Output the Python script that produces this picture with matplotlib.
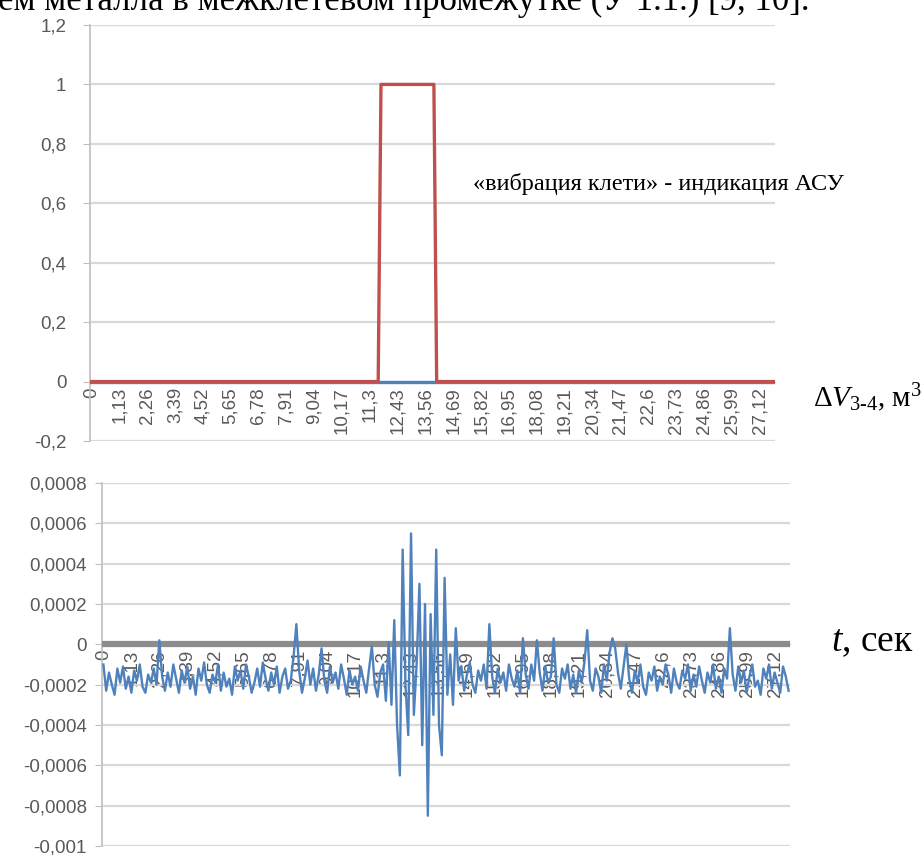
import matplotlib
matplotlib.use("Agg")
import matplotlib.pyplot as plt
import numpy as np

plt.rcParams['mathtext.fontset'] = 'custom'
plt.rcParams['mathtext.rm'] = 'Liberation Serif'
plt.rcParams['mathtext.it'] = 'Liberation Serif:italic'
plt.rcParams['mathtext.bf'] = 'Liberation Serif:bold'

# ---------------- data ----------------
tick_labels = ["0", "1,13", "2,26", "3,39", "4,52", "5,65", "6,78", "7,91", "9,04",
               "10,17", "11,3", "12,43", "13,56", "14,69", "15,82", "16,95", "18,08",
               "19,21", "20,34", "21,47", "22,6", "23,73", "24,86", "25,99", "27,12"]
label_every = 10   # one label per 10 samples (step 0.113 s)

# top chart: ASU "stand vibration" indication (0/1)
vib_start = 104
vib_end = 123
# bottom chart: dV(3-4), units of 1e-4 m^3
dv_e4 = [
    # 0 .. 99
    -1.0, -2.3, -1.4, -2.0, -2.5, -1.2, -1.9, -1.1, -2.2, -1.6,
    -2.4, -1.3, -1.8, -1.0, -2.1, -2.4, -1.5, -1.9, -1.2, -2.0,
     0.2, -1.6, -2.3, -1.4, -2.1, -1.0, -1.7, -2.4, -1.3, -1.9,
    -1.1, -2.2, -1.6, -2.5, -1.2, -1.8, -0.9, -2.0, -2.4, -1.5,
    -1.9, -1.0, -2.3, -1.4, -2.1, -1.7, -2.5, -1.1, -1.8, -1.3,
    -2.2, -1.0, -1.6, -2.4, -1.9, -1.2, -2.1, -0.9, -1.7, -2.3,
    -1.4, -2.0, -1.1, -2.4, -1.6, -1.2, -2.2, -1.8, -0.6,  1.0,
    -1.3, -2.4, -1.7, -0.8, -2.0, -1.2, -2.3, -1.5, -0.2, -1.8,
    -2.4, -1.1, -1.9, -1.4, -2.2, -1.0, -1.7, -2.5, -1.3, -2.0,
    -1.6, -2.3, -1.1, -1.8, -2.4, -1.2, -0.1, -2.0, -2.6, -1.4,
    # 100 .. 125 (vibration)
    -1.0, -2.8,  0.1, -3.0,  1.2, -4.0, -6.5,  4.7, -2.0, -4.5,
     5.5, -3.5, -1.0,  3.0, -5.0,  2.0, -8.5,  1.5, -3.5,  4.7,
    -4.0, -5.5,  3.3, -2.5, -0.5, -3.0,
    # 126 .. 245
     0.8, -1.8, -1.1, -2.3, -1.5, -0.9, -2.0, -2.4, -1.3, -1.8,
    -1.0, -2.2,  1.0, -1.6, -2.4, -1.2, -1.9, -1.4, -2.3, -1.0,
    -1.7, -2.1, -1.3, -2.4,  0.3, -1.5, -2.2, -1.0, -1.8,  0.2,
    -1.4, -2.3, -1.1, -1.9, -1.6,  0.3, -2.0, -2.4, -1.2, -1.7,
    -1.0, -2.2, -1.5, -2.4, -1.3, -1.9, -0.9,  0.7, -1.8, -2.3,
    -1.2, -1.6, -2.4, -1.0, -1.8, -0.4,  0.3, -0.2, -1.4, -2.2,
    -1.1,  0.0, -1.7, -2.4, -1.3, -1.9, -1.0, -2.1, -2.5, -1.4,
    -1.8, -1.1, -2.3, -1.6, -2.0, -1.0, -1.5, -2.4, -1.2, -1.9,
    -2.2, -1.3, -1.7, -1.0, -2.3, -1.5, -2.1, -1.1, -1.8, -2.4,
    -1.4, -1.9, -1.0, -2.2, -1.6, -2.4, -1.2, -1.7,  0.8, -1.5,
    -2.3, -1.1, -1.9, -1.3, -2.4, -1.6, -1.0, -2.1, -1.8, -2.5,
    -1.2, -1.7, -1.0, -2.2, -1.4, -1.9, -2.4, -1.1, -1.6, -2.3,
]

n = len(dv_e4)
idx = np.arange(n)
dv = np.array(dv_e4) * 1e-4
vib = np.zeros(n)
vib[vib_start:vib_end + 1] = 1.0
zero_series = np.zeros(n)

# ---------------- style ----------------
W, H = 923, 855
fig = plt.figure(figsize=(W / 100, H / 100), dpi=100)
fig.patch.set_facecolor('white')

grid_c = '#D9D9D9'
axis_c = '#BFBFBF'
lab_c = '#595959'
tick_font = dict(family='Liberation Sans', size=13.5, color=lab_c)

def fx(px):
    return px / W

def fy(py):
    return 1 - py / H

def style_axes(ax, ylo, yhi, ystep, fmt, ypad):
    ax.set_xlim(-0.5, n - 0.5)
    ax.set_ylim(ylo, yhi)
    yt = np.arange(ylo, yhi + ystep / 2, ystep)
    ax.set_yticks(yt)
    ax.set_yticklabels([fmt(v) for v in yt], **tick_font)
    ax.grid(axis='y', color=grid_c, lw=1.6)
    ax.set_axisbelow(True)
    for s in ['top', 'right']:
        ax.spines[s].set_visible(False)
    ax.spines['left'].set_color(axis_c)
    ax.spines['left'].set_linewidth(1.2)
    ax.spines['bottom'].set_position(('data', 0))
    ax.spines['bottom'].set_color(axis_c)
    ax.tick_params(axis='y', length=5, color=axis_c, pad=ypad)
    xt = idx[::label_every][:len(tick_labels)]
    ax.set_xticks(xt)
    ax.set_xticklabels(tick_labels, rotation=90, **tick_font)
    ax.tick_params(axis='x', length=0, pad=4)

def fmt_comma(v):
    s = ('%.4f' % v).rstrip('0').rstrip('.')
    if s in ('-0', ''):
        s = '0'
    return s.replace('.', ',')

# top chart
ax1 = fig.add_axes([fx(90), fy(441), fx(775 - 90), fy(25) - fy(441)])
style_axes(ax1, -0.2, 1.2, 0.2, fmt_comma, 12)
ax1.plot(idx, zero_series, color='#4F81BD', lw=2.4, zorder=3)
ax1.plot(idx, vib, color='#C0504D', lw=2.4, zorder=4)

# bottom chart
ax2 = fig.add_axes([fx(102), fy(846), fx(790 - 102), fy(483) - fy(846)])
style_axes(ax2, -0.001, 0.0008, 0.0002, fmt_comma, 6)
ax2.plot(idx, zero_series, color='#8C8C8C', lw=4.5, zorder=3)
ax2.plot(idx, dv, color='#4F81BD', lw=1.7, zorder=4)

# texts
serif = 'Liberation Serif'
fig.text(fx(810), fy(10), 'ем металла в межклетевом промежутке (У 1.1.) [9, 10].',
         ha='right', va='baseline', family=serif, fontsize=25)
fig.text(fx(473), fy(190), '«вибрация клети» - индикация АСУ',
         ha='left', va='baseline', family=serif, fontsize=17.5)
fig.text(fx(813), fy(407), r'$\mathit{ΔV}_{\mathit{3\text{-}4}}$, м$^3$',
         ha='left', va='baseline', family=serif, fontsize=21)
fig.text(fx(831), fy(651), r'$\mathit{t}$, сек',
         ha='left', va='baseline', family=serif, fontsize=27)

fig.savefig('out.png', dpi=100, facecolor='white')
